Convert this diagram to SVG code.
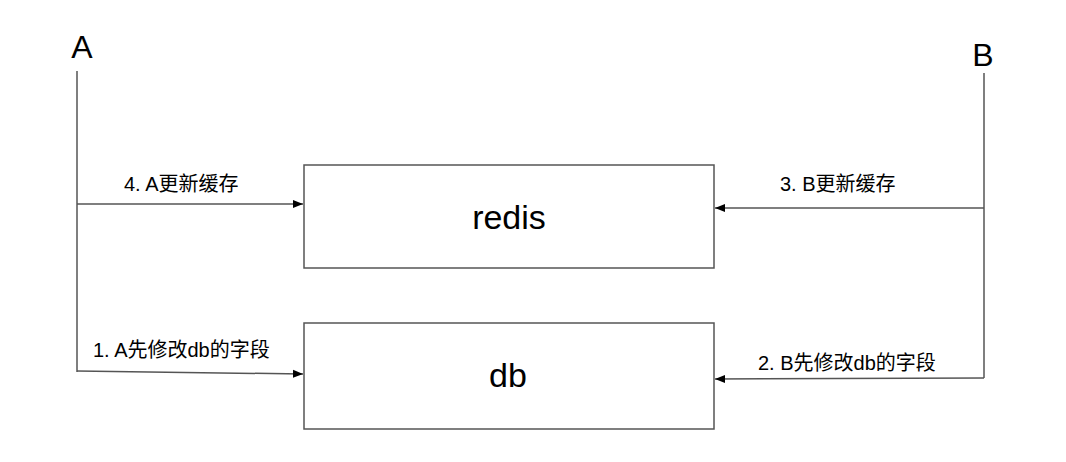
<svg xmlns="http://www.w3.org/2000/svg" width="1066" height="462" viewBox="0 0 1066 462">
<style>
.box{fill:#fff;stroke:#555;stroke-width:1.5}
.ln{fill:none;stroke:#555;stroke-width:1.5}
.t{font-family:"Liberation Sans","Noto Sans CJK SC",sans-serif;fill:#000}
.lbl{font-size:20px}
.big{font-size:34px;text-anchor:middle}
</style>
<defs>
<marker id="ah" viewBox="0 0 10 10" refX="10" refY="5" markerWidth="10" markerHeight="10" markerUnits="userSpaceOnUse" orient="auto">
<path d="M0,1 L10,5 L0,9 z" fill="#000"/>
</marker>
</defs>
<g id="nodeA"><text class="t" x="82" y="58" font-size="32" text-anchor="middle">A</text></g>
<g id="nodeB"><text class="t" x="983" y="66" font-size="32" text-anchor="middle">B</text></g>
<g id="redis"><rect class="box" x="304" y="165" width="410" height="103"/><text class="t big" x="509" y="229">redis</text></g>
<g id="db"><rect class="box" x="304" y="323" width="410" height="106"/><text class="t big" x="508" y="387">db</text></g>
<g id="connectors">
<path class="ln" d="M77,71 V372"/>
<path class="ln" d="M77,204 H303" marker-end="url(#ah)"/>
<path class="ln" d="M77,371 L303,374" marker-end="url(#ah)"/>
<path class="ln" d="M984,73 V378"/>
<path class="ln" d="M984,208 H715" marker-end="url(#ah)"/>
<path class="ln" d="M984,378 L715,379" marker-end="url(#ah)"/>
<text class="t lbl" x="124" y="191">4. A更新缓存</text>
<text class="t lbl" x="780" y="191">3. B更新缓存</text>
<text class="t lbl" x="93" y="357">1. A先修改db的字段</text>
<text class="t lbl" x="758" y="370">2. B先修改db的字段</text>
</g>
</svg>
